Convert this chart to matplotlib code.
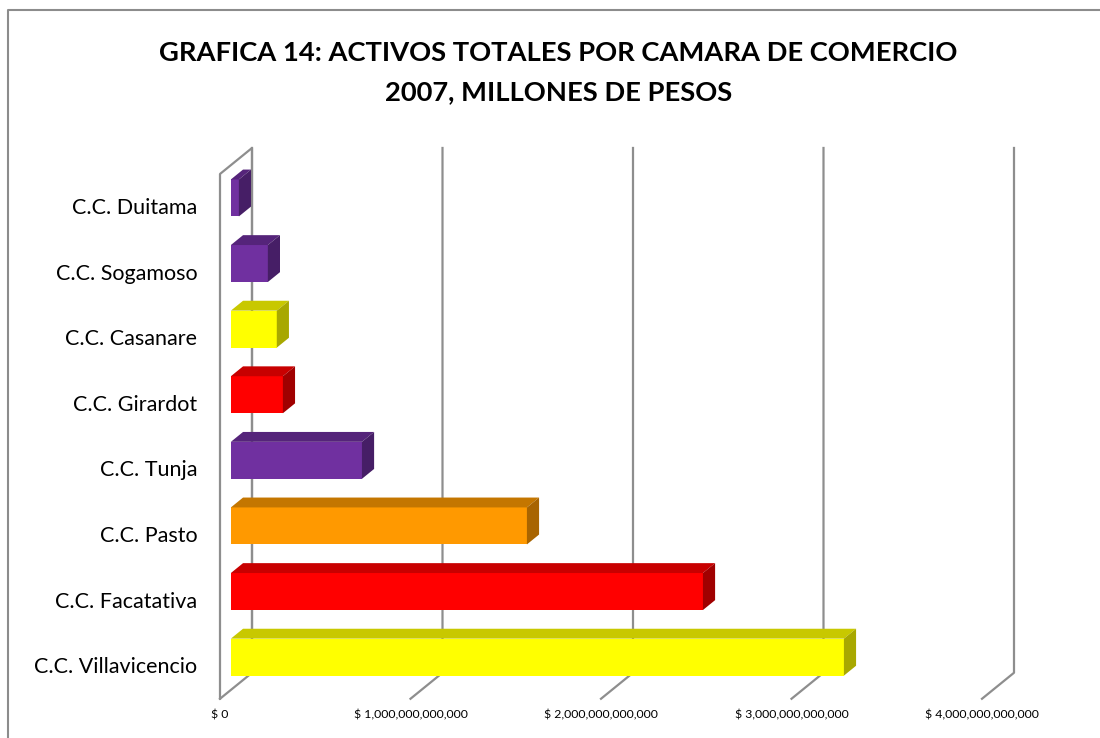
import matplotlib
matplotlib.use("Agg")
import matplotlib.pyplot as plt
from matplotlib.patches import Polygon
from matplotlib.lines import Line2D

plt.rcParams['font.family'] = ['Lato', 'DejaVu Sans']

# data (pesos), bottom to top
camaras = ['C.C. Villavicencio', 'C.C. Facatativa', 'C.C. Pasto', 'C.C. Tunja',
           'C.C. Girardot', 'C.C. Casanare', 'C.C. Sogamoso', 'C.C. Duitama']
activos = [3.218e12, 2.478e12, 1.554e12, 0.688e12, 0.273e12, 0.241e12, 0.194e12, 0.042e12]
ticks = [0, 1e12, 2e12, 3e12, 4e12]
tick_labels = ['$ 0', '$ 1,000,000,000,000', '$ 2,000,000,000,000',
               '$ 3,000,000,000,000', '$ 4,000,000,000,000']

colores = {
    'purple': ('#7030A0', '#55247A', '#461E66'),
    'yellow': ('#FFFF00', '#C8C800', '#A8A800'),
    'red':    ('#FF0000', '#C80000', '#A00000'),
    'orange': ('#FF9900', '#C47600', '#A86400'),
}
bar_col = ['yellow', 'red', 'orange', 'purple', 'red', 'yellow', 'purple', 'purple']

W, H = 1100, 738
fig = plt.figure(figsize=(W / 100, H / 100), dpi=100)

# axes laid so that 1e12 = 190.5 px and one category = 65.6 px
x0px, x1px = 200.95, 1039.15
ytop, ybot = 121.5, 725.0
ax = fig.add_axes([x0px / W, 1 - ybot / H, (x1px - x0px) / W, (ybot - ytop) / H])
ax.set_xlim(-0.1e12, 4.3e12)
ax.set_ylim(-0.9, 8.3)
ax.axis('off')

# depth offsets of the 3D box in data units
ddx = 32 / 190.5 * 1e12
ddy = 26 / 65.6
ylo, yhi = -0.5, 7.5
grid = '#8e8e8e'

# left wall outline
ax.add_line(Line2D([0, 0, ddx, ddx], [ylo, yhi, yhi + ddy, ylo + ddy], color=grid, lw=1.6))
# gridlines on back wall plus floor diagonals
for t, lab in zip(ticks, tick_labels):
    ax.add_line(Line2D([t, t + ddx, t + ddx], [ylo, ylo + ddy, yhi + ddy],
                       color=grid, lw=1.6, zorder=1))
    ax.text(t, ylo - 0.24, lab, ha='center', va='center', fontsize=8.8)

# bars
d0, d1 = 0.34, 0.72
h = 37 / 65.6
for i, (v, c) in enumerate(zip(activos, bar_col)):
    front, top, side = colores[c]
    bx = d0 * ddx
    by = i + d0 * ddy - h / 2
    ex = (d1 - d0) * ddx
    ey = (d1 - d0) * ddy
    ax.add_patch(Polygon([(bx, by), (bx + v, by), (bx + v, by + h), (bx, by + h)],
                         closed=True, fc=front, ec='none', zorder=3))
    ax.add_patch(Polygon([(bx, by + h), (bx + v, by + h), (bx + v + ex, by + h + ey),
                          (bx + ex, by + h + ey)], closed=True, fc=top, ec='none', zorder=3))
    ax.add_patch(Polygon([(bx + v, by), (bx + v + ex, by + ey), (bx + v + ex, by + h + ey),
                          (bx + v, by + h)], closed=True, fc=side, ec='none', zorder=3))
    ax.text(-0.12e12, i - 0.02, camaras[i], ha='right', va='center', fontsize=15.5)

fig.text(558 / W, 1 - 53 / H, 'GRAFICA 14: ACTIVOS TOTALES POR CAMARA DE COMERCIO',
         ha='center', va='center', fontsize=19.7, fontweight='bold')
fig.text(559 / W, 1 - 92 / H, '2007, MILLONES DE PESOS',
         ha='center', va='center', fontsize=19.7, fontweight='bold')

# chart border (left and top only visible)
fig.add_artist(Line2D([8 / W, 8 / W, 1.0], [0, 1 - 10 / H, 1 - 10 / H], color='#8c8c8c', lw=1.5))

fig.savefig('out.png', dpi=100)
